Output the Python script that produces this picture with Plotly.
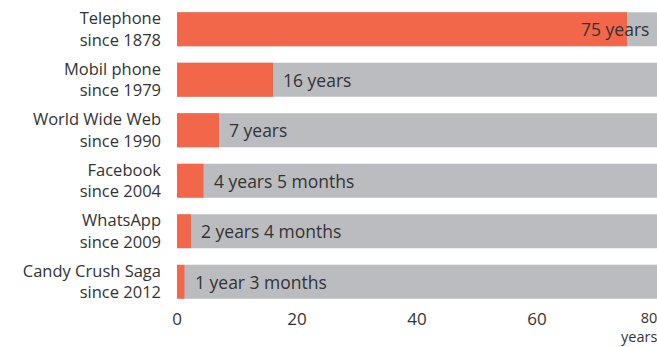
import plotly.graph_objects as go

names = ["Telephone", "Mobil phone", "World Wide Web", "Facebook", "WhatsApp", "Candy Crush Saga"]
since = ["since 1878", "since 1979", "since 1990", "since 2004", "since 2009", "since 2012"]
years = [75, 16, 7, 4.42, 2.33, 1.25]
labels = ["75 years", "16 years", "7 years", "4 years 5 months", "2 years 4 months", "1 year 3 months"]
axis_max = 80
tick_vals = [0, 20, 40, 60]
axis_unit = "years"

FONT = "Open Sans"
TXT = "#333333"
categories = [f"{n}<br>{s}" for n, s in zip(names, since)]

fig = go.Figure()
fig.add_trace(go.Bar(y=categories, x=[axis_max] * len(categories), orientation="h",
                     marker=dict(color="#BBBCBF", line=dict(width=0)), hoverinfo="skip"))
fig.add_trace(go.Bar(y=categories, x=years, orientation="h",
                     marker=dict(color="#F2674A", line=dict(width=0))))

annotations = []
for cat, v, lab in zip(categories, years, labels):
    if v > 60:
        annotations.append(dict(x=axis_max, y=cat, xref="x", yref="y", text=lab, showarrow=False,
                                xanchor="right", xshift=-6, font=dict(family=FONT, size=17.5, color=TXT)))
    else:
        annotations.append(dict(x=v, y=cat, xref="x", yref="y", text=lab, showarrow=False,
                                xanchor="left", xshift=8, font=dict(family=FONT, size=17.5, color=TXT)))

annotations.append(dict(x=axis_max, y=0, xref="x", yref="paper",
                        text=f"{axis_max}<br>{axis_unit}", showarrow=False, align="right",
                        xanchor="right", yanchor="top", yshift=0, xshift=1, borderpad=0,
                        font=dict(family=FONT, size=14.5, color=TXT)))

fig.update_layout(
    width=657, height=347,
    margin=dict(l=177, r=0, t=4, b=40),
    barmode="overlay", bargap=0.33, showlegend=False,
    plot_bgcolor="white", paper_bgcolor="white",
    font=dict(family=FONT, size=17, color=TXT),
    xaxis=dict(range=[0, axis_max], tickvals=tick_vals, showgrid=False, zeroline=False,
               showline=False, ticks="", tickfont=dict(size=17, color=TXT)),
    yaxis=dict(autorange="reversed", showgrid=False, zeroline=False, showline=False, ticks="",
               ticklabelstandoff=15, tickfont=dict(size=16.5, color=TXT)),
    annotations=annotations,
)
fig.write_html("out.html")
